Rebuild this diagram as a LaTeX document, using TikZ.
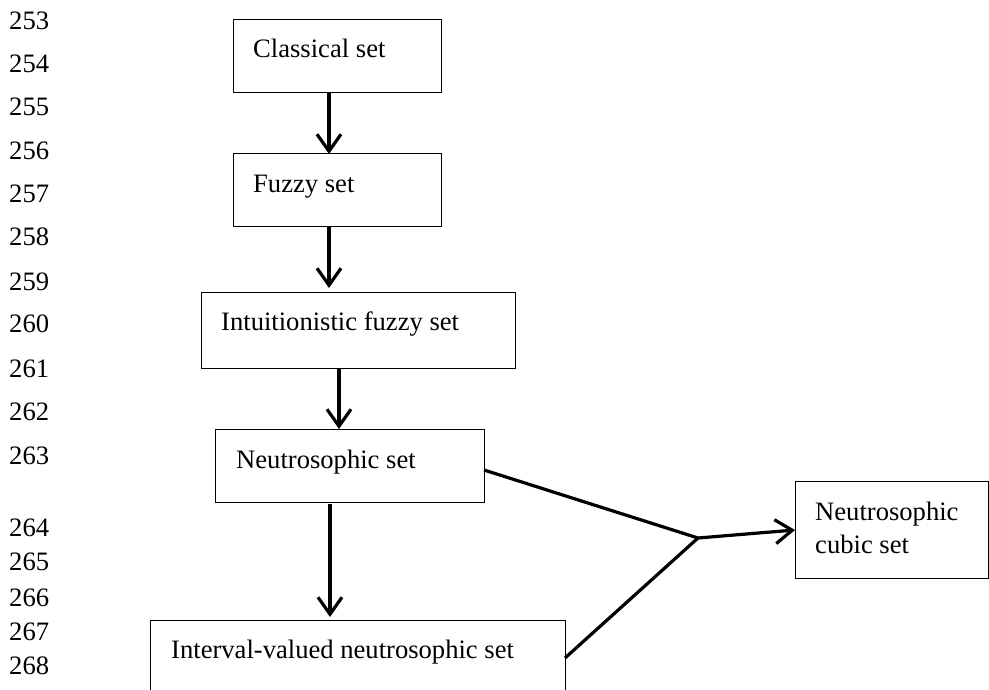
\documentclass[tikz,border=0pt]{standalone}
\usepackage{fontspec}
\setmainfont{Liberation Serif}
\usetikzlibrary{arrows.meta}
\begin{document}
\begin{tikzpicture}[x=1pt,y=-1pt,
  box/.style={draw=black,line width=1pt,inner sep=0pt,outer sep=0pt},
  lbl/.style={anchor=base west,inner sep=0pt,font=\fontsize{26.6}{30}\selectfont},
  lnum/.style={anchor=base west,inner sep=0pt,font=\fontsize{26.6}{30}\selectfont},
  arr/.style={line width=3.2pt,-{Straight Barb[length=17pt,width=24pt,line width=3.2pt]}},
  conn/.style={line width=3.2pt}]
\useasboundingbox (0,0) rectangle (989,690);
\clip (0,0) rectangle (989,690);
\fill[white] (0,0) rectangle (989,690);
% line numbers
\foreach \n/\yy in {253/30,254/73,255/116,256/160,257/203,258/246,259/290,260/332,261/377,262/420,263/464,264/536,265/570,266/606,267/640,268/674}
  \node[lnum] (ln\n) at (9,\yy) {\n};
% boxes
\node[box,minimum width=208pt,minimum height=73pt] (cls) at (337,56.5) {};
\node[box,minimum width=208pt,minimum height=73pt] (fuz) at (337,190.5) {};
\node[box,minimum width=314pt,minimum height=76pt] (int) at (358,330) {};
\node[box,minimum width=269pt,minimum height=73pt] (neu) at (349.5,465.5) {};
\node[box,minimum width=415pt,minimum height=100pt] (ivn) at (357.5,670) {};
\node[box,minimum width=193pt,minimum height=97pt] (cub) at (891.5,529.5) {};
% labels
\node[lbl] (tcls) at (253,58) {Classical set};
\node[lbl] (tfuz) at (253,193) {Fuzzy set};
\node[lbl] (tint) at (221,330) {Intuitionistic fuzzy set};
\node[lbl] (tneu) at (236,468) {Neutrosophic set};
\node[lbl] (tivn) at (171,658) {Interval-valued neutrosophic set};
\node[lbl] (tcub1) at (815,520) {Neutrosophic};
\node[lbl] (tcub2) at (815,553) {cubic set};
% vertical arrows
\draw[arr] ([xshift=-8pt]cls.south) -- ([xshift=-8pt]fuz.north);
\draw[arr,shorten >=4pt] ([xshift=-8pt]fuz.south) -- ([xshift=-8pt]fuz.south |- int.north);
\draw[arr] ([xshift=-19pt]int.south) -- ([xshift=-19pt]int.south |- neu.north);
\draw[arr,shorten <=2pt,shorten >=3pt] ([xshift=-19.5pt]neu.south) -- ([xshift=-19.5pt]neu.south |- ivn.north);
% merge
\coordinate (j) at (698,538);
\draw[conn] ([yshift=-4.5pt]neu.east) -- (j);
\draw[conn] ([yshift=12pt]ivn.east) -- (j);
\draw[arr] (j) -- ([yshift=-0.5pt]cub.west);
\end{tikzpicture}
\end{document}
